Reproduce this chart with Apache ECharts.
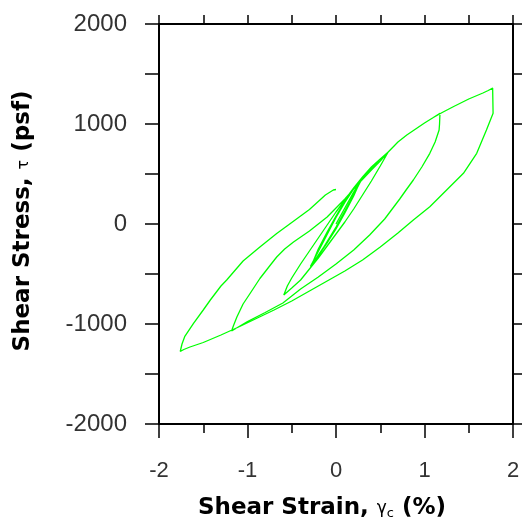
<!DOCTYPE html>
<html>
<head>
<meta charset="utf-8">
<script src="https://cdn.jsdelivr.net/npm/echarts@6/dist/echarts.min.js"></script>
<style>
html,body{margin:0;padding:0;background:#fff;}
#chart{width:524px;height:527px;}
</style>
</head>
<body>
<div id="chart"></div>
<script>
// Axis settings
const xTicks = [-2, -1, 0, 1, 2];
const yTicks = [-2000, -1000, 0, 1000, 2000];

// Segment 1: small cycles around +/-0.3 %
const coreStrain = [0, 0.1, 0.2, 0.27,
  0.2, 0.1, 0, -0.1, -0.2, -0.27,
  -0.2, -0.1, 0, 0.1, 0.2, 0.28,
  0.2, 0.1, 0, -0.1, -0.2, -0.28,
  -0.2, -0.1, 0, 0.1, 0.2, 0.29,
  0.2, 0.1, 0, -0.1, -0.2, -0.29,
  -0.2, -0.1, 0, 0.1, 0.2, 0.28,
  0.2, 0.1, 0, -0.1, -0.2, -0.27,
  -0.2, -0.1, 0, 0.1, 0.2, 0.3];
const coreStress = [0, 160, 320, 420,
  280, 110, -50, -190, -320, -400,
  -250, -80, 80, 230, 360, 430,
  290, 120, -40, -185, -315, -415,
  -265, -95, 70, 220, 355, 445,
  295, 130, -30, -175, -320, -425,
  -275, -105, 65, 215, 350, 435,
  290, 125, -35, -180, -310, -405,
  -260, -90, 75, 225, 355, 450];

// Segment 2: cycle to +/-0.6 %, then loading to 1.2 %
const loop06Strain = [0.3, 0.4, 0.5, 0.59,
  0.5, 0.4, 0.3, 0.2, 0.1, 0, -0.1, -0.2, -0.3, -0.4, -0.5, -0.59,
  -0.55, -0.5, -0.4, -0.3, -0.2, -0.1, 0, 0.1, 0.2, 0.3, 0.4, 0.5, 0.59,
  0.7, 0.8, 0.9, 1.0, 1.1, 1.175];
const loop06Stress = [450, 560, 650, 720,
  580, 430, 290, 150, 20, -100, -220, -340, -450, -560, -640, -710,
  -620, -540, -400, -270, -140, -10, 120, 240, 360, 470, 570, 650, 720,
  820, 890, 950, 1010, 1065, 1107];

// Segment 3: unloading from 1.2 % to -1.2 %, reloading to 1.8 %
const loop12Strain = [1.175, 1.17, 1.165, 1.12, 1.06, 0.97, 0.874, 0.8, 0.72, 0.55, 0.38, 0.2, 0, -0.2, -0.4, -0.6, -0.8, -1.0, -1.18,
  -1.16, -1.12, -1.05, -0.96, -0.86, -0.75, -0.67, -0.58, -0.48, -0.3, -0.1, 0.1, 0.25, 0.4, 0.5, 0.59,
  0.7, 0.8, 0.9, 1.0, 1.1, 1.2, 1.33, 1.5, 1.66, 1.72, 1.77];
const loop12Stress = [1107, 1000, 940, 820, 707, 570, 440, 350, 250, 50, -110, -260, -400, -530, -650, -790, -885, -975, -1070,
  -1020, -930, -800, -680, -545, -420, -330, -250, -180, -70, 70, 250, 400, 540, 630, 720,
  820, 890, 950, 1010, 1065, 1115, 1175, 1250, 1310, 1335, 1359];

// Segment 4: unloading from 1.8 % to -1.8 %, final reloading
const loop18Strain = [1.77, 1.775, 1.70, 1.59, 1.44, 1.25, 1.06, 0.874, 0.7, 0.5, 0.3, 0.1, -0.1, -0.3, -0.5, -0.7, -0.9, -1.1, -1.3, -1.5, -1.65, -1.72, -1.76,
  -1.74, -1.71, -1.61, -1.5, -1.42, -1.3, -1.235, -1.05, -0.86, -0.67, -0.5, -0.3, -0.12, -0.03, 0.0];
const loop18Stress = [1359, 1107, 940, 707, 507, 340, 173, 40, -90, -230, -360, -470, -570, -670, -770, -860, -945, -1030, -1110, -1185, -1230, -1255, -1275,
  -1200, -1127, -993, -860, -760, -620, -560, -370, -230, -95, 15, 145, 290, 340, 345];

const segStrain = [coreStrain, loop06Strain, loop12Strain, loop18Strain];
const segStress = [coreStress, loop06Stress, loop12Stress, loop18Stress];
const pathData = [];
segStrain.forEach((s, k) => s.forEach((v, i) => pathData.push([v, segStress[k][i]])));

const chart = echarts.init(document.getElementById('chart'));
const black = '#000';
chart.setOption({
  animation: false,
  backgroundColor: '#fff',
  grid: {left: 159, right: 11, top: 24, bottom: 103, show: false},
  xAxis: [{
    type: 'value', min: xTicks[0], max: xTicks[xTicks.length - 1], interval: 1, position: 'bottom',
    axisLine: {show: true, onZero: false, lineStyle: {color: black, width: 2}},
    axisTick: {show: true, inside: false, length: 14, lineStyle: {color: black, width: 1.5}},
    minorTick: {show: true, splitNumber: 2, length: 9, lineStyle: {color: black, width: 1.5}},
    splitLine: {show: false},
    axisLabel: {fontSize: 22, margin: 36, color: '#333', fontFamily: 'Liberation Sans', formatter: v => String(v)},
    name: '{b|Shear Strain, }{g|γ}{s|c}{b| (%)}',
    nameLocation: 'middle', nameGap: 73,
    nameTextStyle: {padding: [0, 28, 0, 0], rich: {
      b: {fontFamily: 'DejaVu Sans', fontWeight: 'bold', fontSize: 23, color: black},
      g: {fontFamily: 'DejaVu Sans', fontSize: 17, color: black},
      s: {fontFamily: 'DejaVu Sans', fontSize: 13, color: black, padding: [10, 0, 0, 0]}
    }}
  }, {
    type: 'value', min: xTicks[0], max: xTicks[xTicks.length - 1], interval: 0.5, position: 'top',
    axisLine: {show: true, onZero: false, lineStyle: {color: black, width: 2}},
    axisTick: {show: true, inside: false, length: 9, lineStyle: {color: black, width: 1.5}},
    splitLine: {show: false}, axisLabel: {show: false}
  }],
  yAxis: [{
    type: 'value', min: yTicks[0], max: yTicks[yTicks.length - 1], interval: 1000, position: 'left',
    axisLine: {show: true, onZero: false, lineStyle: {color: black, width: 2}},
    axisTick: {show: true, inside: false, length: 14, lineStyle: {color: black, width: 1.5}},
    minorTick: {show: true, splitNumber: 2, length: 14, lineStyle: {color: black, width: 1.5}},
    splitLine: {show: false},
    axisLabel: {fontSize: 24, margin: 32, color: '#333', fontFamily: 'Liberation Sans', formatter: v => String(v)},
    name: '{b|Shear Stress, }{g|τ}{b| (psf)}',
    nameLocation: 'middle', nameGap: 124, nameRotate: 90,
    nameTextStyle: {padding: [0, 0, 0, 6], rich: {
      b: {fontFamily: 'DejaVu Sans', fontWeight: 'bold', fontSize: 23, color: black},
      g: {fontFamily: 'DejaVu Sans', fontSize: 16, color: black}
    }}
  }, {
    type: 'value', min: yTicks[0], max: yTicks[yTicks.length - 1], interval: 500, position: 'right',
    axisLine: {show: true, onZero: false, lineStyle: {color: black, width: 2}},
    axisTick: {show: true, inside: false, length: 9, lineStyle: {color: black, width: 1.5}},
    splitLine: {show: false}, axisLabel: {show: false}
  }],
  series: [{
    type: 'line', xAxisIndex: 0, yAxisIndex: 0,
    data: pathData, showSymbol: false, smooth: false,
    lineStyle: {color: '#00ff00', width: 1.3}
  }]
});
</script>
</body>
</html>
